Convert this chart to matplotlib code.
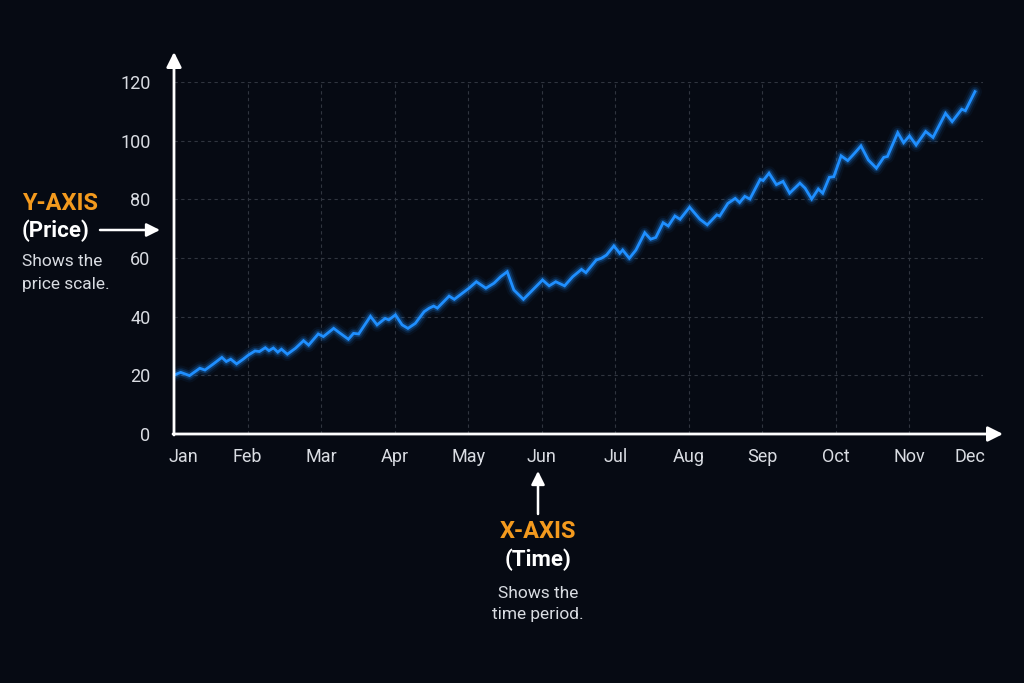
import matplotlib.pyplot as plt
from matplotlib.transforms import ScaledTranslation

plt.rcParams['font.family'] = ['Roboto', 'DejaVu Sans']

BG = '#060a13'
LINE = '#1f8fff'
ORANGE = '#f39a1e'
TXT = '#d9dce2'
GRID = '#30353f'

# price path (x in months from start of Jan, y = price)
month_x = [0.0, 0.09, 0.21, 0.35, 0.42, 0.53, 0.65, 0.71, 0.77, 0.85, 0.94,
           1.01, 1.10, 1.16, 1.24, 1.29, 1.35, 1.41, 1.46, 1.54, 1.65, 1.76,
           1.83, 1.96, 2.03, 2.17, 2.26, 2.37, 2.44, 2.51, 2.67, 2.76, 2.87,
           2.92, 3.01, 3.10, 3.18, 3.28, 3.40, 3.47, 3.53, 3.58, 3.74, 3.81,
           4.01, 4.11, 4.24, 4.35, 4.44, 4.53, 4.62, 4.75, 4.90, 5.01, 5.10,
           5.19, 5.31, 5.42, 5.54, 5.60, 5.74, 5.81, 5.88, 5.98, 6.06, 6.10,
           6.19, 6.28, 6.40, 6.48, 6.55, 6.65, 6.72, 6.81, 6.88, 7.01, 7.15,
           7.25, 7.38, 7.42, 7.53, 7.63, 7.69, 7.76, 7.83, 7.97, 8.01, 8.09,
           8.19, 8.28, 8.37, 8.51, 8.58, 8.67, 8.76, 8.82, 8.91, 8.97, 9.07,
           9.16, 9.22, 9.26, 9.34, 9.44, 9.55, 9.65, 9.70, 9.84, 9.92, 10.00,
           10.09, 10.22, 10.32, 10.49, 10.58, 10.71, 10.76, 10.89]
price = [20.1, 21.0, 19.9, 22.4, 21.8, 23.8, 26.1, 24.7, 25.5, 23.9, 25.5,
         26.9, 28.3, 28.1, 29.4, 28.4, 29.3, 27.9, 28.9, 27.2, 29.2, 31.8,
         30.3, 34.1, 33.2, 36.0, 34.3, 32.3, 34.3, 34.1, 40.1, 37.2, 39.4,
         38.9, 40.6, 37.2, 36.0, 37.7, 41.7, 42.9, 43.6, 42.9, 47.0, 45.9,
         49.7, 51.9, 49.7, 51.4, 53.6, 55.3, 49.1, 45.9, 49.7, 52.5, 50.5,
         51.9, 50.5, 53.6, 56.1, 55.0, 59.3, 59.9, 61.0, 64.1, 61.6, 62.7,
         59.9, 62.7, 68.6, 66.4, 67.0, 72.0, 70.9, 74.3, 73.2, 77.3, 73.2,
         71.3, 74.7, 74.3, 78.6, 80.3, 78.9, 81.0, 80.1, 86.8, 86.4, 88.9,
         85.0, 86.1, 82.1, 85.5, 83.8, 80.1, 83.5, 82.1, 87.5, 87.7, 94.8,
         93.2, 94.8, 95.9, 98.2, 93.4, 90.6, 94.3, 94.6, 102.7, 99.3, 101.6,
         98.5, 103.1, 101.1, 109.3, 106.5, 110.7, 110.2, 116.7]

months = ['Jan', 'Feb', 'Mar', 'Apr', 'May', 'Jun',
          'Jul', 'Aug', 'Sep', 'Oct', 'Nov', 'Dec']
y_ticks = [0, 20, 40, 60, 80, 100, 120]

fig = plt.figure(figsize=(10.24, 6.83), dpi=100, facecolor=BG)
ax = fig.add_axes([0.170, 0.3646, 0.790, 0.5154])
ax.set_facecolor(BG)

# glow under the line
for lw, a in [(10, 0.06), (7, 0.12), (4.5, 0.25)]:
    ax.plot(month_x, price, color=LINE, lw=lw, alpha=a,
            solid_joinstyle='round', solid_capstyle='round')
ax.plot(month_x, price, color=LINE, lw=2.0, solid_joinstyle='miter')

ax.set_xlim(0, 11)
ax.set_ylim(0, 120)

# grid
for yv in y_ticks[1:]:
    ax.axhline(yv, color=GRID, lw=0.8, ls=(0, (3, 3)), zorder=0)
for xv in range(1, 11):
    ax.axvline(xv, color=GRID, lw=0.8, ls=(0, (3, 3)), zorder=0)

for s in ax.spines.values():
    s.set_visible(False)

ax.set_yticks(y_ticks)
ax.set_yticklabels([str(v) for v in y_ticks])
ax.set_xticks(range(12))
ax.set_xticklabels(months)
ax.tick_params(axis='both', length=0, colors=TXT, labelsize=13)
ax.tick_params(axis='y', pad=17)
ax.tick_params(axis='x', pad=10)
xlabels = ax.get_xticklabels()
xlabels[0].set_transform(xlabels[0].get_transform()
                         + ScaledTranslation(9 / 100, 0, fig.dpi_scale_trans))
xlabels[-1].set_transform(xlabels[-1].get_transform()
                          + ScaledTranslation(-13 / 100, 0, fig.dpi_scale_trans))

# axis arrows (figure pixels converted to fraction)
W, H = 1024, 683
def fp(x, y):
    return (x / W, (H - y) / H)

arrow = dict(arrowstyle='-|>,head_length=0.9,head_width=0.45', color='white',
             lw=2, shrinkA=0, shrinkB=0)
ax.annotate('', xy=fp(174, 52), xytext=fp(174, 435),
            xycoords='figure fraction', arrowprops=arrow)
ax.annotate('', xy=fp(1003, 434), xytext=fp(173, 434),
            xycoords='figure fraction', arrowprops=arrow)

# Y-axis callout
small_arrow = dict(arrowstyle='-|>,head_length=0.8,head_width=0.4',
                   color='white', lw=1.8, shrinkA=0, shrinkB=0)
fig.text(*fp(22, 203), 'Y-AXIS', color=ORANGE, fontsize=17,
         fontweight='bold', ha='left', va='center')
fig.text(*fp(22, 231), '(Price)', color='white', fontsize=16,
         fontweight='bold', ha='left', va='center')
fig.text(*fp(22, 262), 'Shows the', color=TXT, fontsize=12.5,
         ha='left', va='center')
fig.text(*fp(22, 284), 'price scale.', color=TXT, fontsize=12.5,
         ha='left', va='center')
ax.annotate('', xy=fp(160, 230), xytext=fp(100, 230),
            xycoords='figure fraction', arrowprops=small_arrow)

# X-axis callout
fig.text(*fp(538, 531), 'X-AXIS', color=ORANGE, fontsize=17,
         fontweight='bold', ha='center', va='center')
fig.text(*fp(538, 560), '(Time)', color='white', fontsize=16,
         fontweight='bold', ha='center', va='center')
fig.text(*fp(538, 593), 'Shows the', color=TXT, fontsize=12.5,
         ha='center', va='center')
fig.text(*fp(538, 615), 'time period.', color=TXT, fontsize=12.5,
         ha='center', va='center')
ax.annotate('', xy=fp(538, 471), xytext=fp(538, 514),
            xycoords='figure fraction', arrowprops=small_arrow)

fig.savefig('out.png', dpi=100, facecolor=BG)
